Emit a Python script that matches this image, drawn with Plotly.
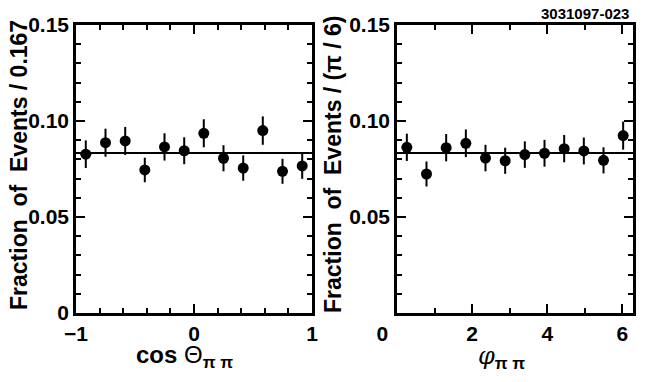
import plotly.graph_objects as go
from plotly.subplots import make_subplots
import math

# left panel: cos(theta_pipi), 12 bins of width 1/6
cos_centers = [-0.917, -0.75, -0.583, -0.417, -0.25, -0.083, 0.083, 0.25, 0.417, 0.583, 0.75, 0.917]
cos_frac = [0.0827, 0.0887, 0.0896, 0.0745, 0.0865, 0.0845, 0.0936, 0.0806, 0.0755, 0.0950, 0.0738, 0.0766]
cos_err = [0.0072, 0.0073, 0.0073, 0.0064, 0.0071, 0.0070, 0.0073, 0.0068, 0.0066, 0.0074, 0.0065, 0.0067]

# right panel: phi_pipi, 12 bins of width pi/6
phi_centers = [0.262, 0.785, 1.309, 1.833, 2.356, 2.880, 3.403, 3.927, 4.451, 4.974, 5.498, 6.021]
phi_frac = [0.0863, 0.0724, 0.0861, 0.0884, 0.0807, 0.0793, 0.0825, 0.0832, 0.0856, 0.0844, 0.0795, 0.0924]
phi_err = [0.0071, 0.0065, 0.0071, 0.0072, 0.0069, 0.0068, 0.0069, 0.0070, 0.0071, 0.0070, 0.0068, 0.0073]

flat = 1 / 12
FONT = "Liberation Sans, Arial, Helvetica, sans-serif"

# page body has an 8px default margin, so the figure is shifted by that
OFF = 8
W, H = 647 - OFF, 382 - OFF

def px_x(p):
    return (p - OFF) / W

def px_y(p):
    return 1 - (p - OFF) / H

fig = make_subplots(rows=1, cols=2)

def add_panel(col, xs, ys, es, xr):
    fig.add_trace(go.Scatter(
        x=[xr[0], xr[1]], y=[flat, flat], mode="lines",
        line=dict(color="black", width=2), showlegend=False, hoverinfo="skip"),
        row=1, col=col)
    fig.add_trace(go.Scatter(
        x=xs, y=ys, mode="markers",
        marker=dict(color="black", size=11),
        error_y=dict(type="data", array=es, color="black", thickness=2, width=0),
        showlegend=False), row=1, col=col)

add_panel(1, cos_centers, cos_frac, cos_err, [-1, 1])
add_panel(2, phi_centers, phi_frac, phi_err, [0, 2 * math.pi])

ydom = [px_y(313), px_y(25)]
tickfont = dict(family=FONT, size=21, color="black", weight="bold")
titlefont = dict(family=FONT, size=23, color="black", weight="bold")
xtitlefont = dict(family=FONT, size=24, color="black", weight="bold")
minor_style = dict(ticks="inside", ticklen=5, tickwidth=1.5, tickcolor="black")

axis_common = dict(
    showline=True, linewidth=2.5, linecolor="black", mirror="allticks",
    ticks="inside", ticklen=9, tickwidth=1.5, tickcolor="black",
    showgrid=False, zeroline=False, tickfont=tickfont, automargin=False,
)

fig.update_xaxes(**axis_common)
fig.update_yaxes(**axis_common)

def ann(text, x, y, xanchor="center", font=titlefont, angle=0):
    return dict(text=text, x=px_x(x), y=px_y(y), xref="paper", yref="paper",
                xanchor=xanchor, yanchor="middle", textangle=angle,
                showarrow=False, font=font)

thin = "font-weight:normal"
fig.update_layout(
    template="none",
    width=W, height=H,
    margin=dict(l=0, r=0, t=0, b=0, pad=0, autoexpand=False),
    plot_bgcolor="white", paper_bgcolor="white",
    xaxis=dict(domain=[px_x(76), px_x(312)], range=[-1, 1],
               tickvals=[-1, 0, 1], ticktext=["\u22121", "0", "1"],
               minor=dict(dtick=0.2, tick0=-1, **minor_style)),
    xaxis2=dict(domain=[px_x(397), px_x(633)], range=[0, 2 * math.pi],
                tickvals=[0, 2, 4, 6], ticktext=["0\u00a0\u00a0\u00a0\u00a0\u00a0", "2", "4", "6"],
                minor=dict(dtick=1, tick0=0, **minor_style)),
    yaxis=dict(domain=ydom, range=[0, 0.15],
               tickvals=[0, 0.05, 0.10, 0.15], ticktext=["0", "0.05", "0.10", "0.15"],
               minor=dict(dtick=0.01, tick0=0, **minor_style)),
    yaxis2=dict(domain=ydom, range=[0, 0.15],
                tickvals=[0.05, 0.10, 0.15], ticktext=["0.05", "0.10", "0.15"],
                minor=dict(dtick=0.01, tick0=0, **minor_style)),
    annotations=[
        ann("Fraction  of  Events / 0.167", 19, 165, angle=-90),
        ann("Fraction  of  Events / (\u03c0 / 6)", 333, 165, angle=-90),
        ann("cos <span style='%s'>\u0398</span><sub>\u03c0 \u03c0</sub>" % thin, 184, 356,
            font=xtitlefont),
        ann("<span style='%s;font-family:DejaVu Serif'><i>\u03c6</i></span><sub>\u03c0 \u03c0</sub>" % thin,
            502, 357, font=xtitlefont),
        ann("3031097-023", 631, 13, xanchor="right",
            font=dict(family=FONT, size=15, color="black", weight="bold")),
    ],
)

fig.write_html("out.html")
